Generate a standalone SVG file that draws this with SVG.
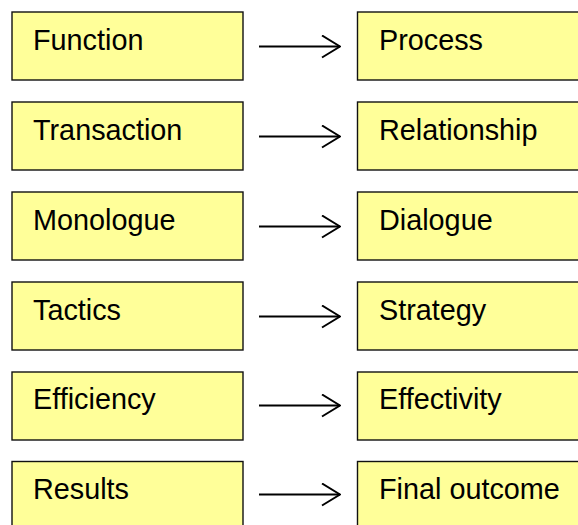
<svg xmlns="http://www.w3.org/2000/svg" width="578" height="525" viewBox="0 0 578 525">
  <defs>
    <style>
      .box { fill: #ffff99; stroke: #111; stroke-width: 1.4; }
      .lbl { font-family: "Liberation Sans", Arial, sans-serif; font-size: 28.8px; fill: #000; }
      .conn { stroke: #000; stroke-width: 2; fill: none; }
    </style>
    <marker id="open" markerWidth="20" markerHeight="26" refX="19" refY="12" orient="auto" markerUnits="userSpaceOnUse">
      <path d="M1,1 L19,12 L1,23" fill="none" stroke="#000" stroke-width="2"/>
    </marker>
  </defs>
  <rect width="578" height="525" fill="#fff"/>

  <g id="n-function"><rect class="box" x="12" y="12" width="231" height="68"/><text class="lbl" x="33" y="50">Function</text></g>
  <g id="n-process"><rect class="box" x="357.5" y="12" width="240" height="68"/><text class="lbl" x="379" y="50">Process</text></g>

  <g id="n-transaction"><rect class="box" x="12" y="102" width="231" height="68"/><text class="lbl" x="33" y="140">Transaction</text></g>
  <g id="n-relationship"><rect class="box" x="357.5" y="102" width="240" height="68"/><text class="lbl" x="379" y="140">Relationship</text></g>

  <g id="n-monologue"><rect class="box" x="12" y="192" width="231" height="68"/><text class="lbl" x="33" y="230">Monologue</text></g>
  <g id="n-dialogue"><rect class="box" x="357.5" y="192" width="240" height="68"/><text class="lbl" x="379" y="230">Dialogue</text></g>

  <g id="n-tactics"><rect class="box" x="12" y="282" width="231" height="68"/><text class="lbl" x="33" y="320">Tactics</text></g>
  <g id="n-strategy"><rect class="box" x="357.5" y="282" width="240" height="68"/><text class="lbl" x="379" y="320">Strategy</text></g>

  <g id="n-efficiency"><rect class="box" x="12" y="372" width="231" height="68"/><text class="lbl" x="33" y="409">Efficiency</text></g>
  <g id="n-effectivity"><rect class="box" x="357.5" y="372" width="240" height="68"/><text class="lbl" x="379" y="409">Effectivity</text></g>

  <g id="n-results"><rect class="box" x="12" y="461.5" width="231" height="80"/><text class="lbl" x="33" y="499">Results</text></g>
  <g id="n-final"><rect class="box" x="357.5" y="461.5" width="240" height="80"/><text class="lbl" x="379" y="499">Final outcome</text></g>

  <g id="connectors">
    <line class="conn" x1="259" y1="46.5" x2="340" y2="46.5" marker-end="url(#open)"/>
    <line class="conn" x1="259" y1="136.5" x2="340" y2="136.5" marker-end="url(#open)"/>
    <line class="conn" x1="259" y1="226.5" x2="340" y2="226.5" marker-end="url(#open)"/>
    <line class="conn" x1="259" y1="316.5" x2="340" y2="316.5" marker-end="url(#open)"/>
    <line class="conn" x1="259" y1="405.5" x2="340" y2="405.5" marker-end="url(#open)"/>
    <line class="conn" x1="259" y1="494.5" x2="340" y2="494.5" marker-end="url(#open)"/>
  </g>
</svg>
